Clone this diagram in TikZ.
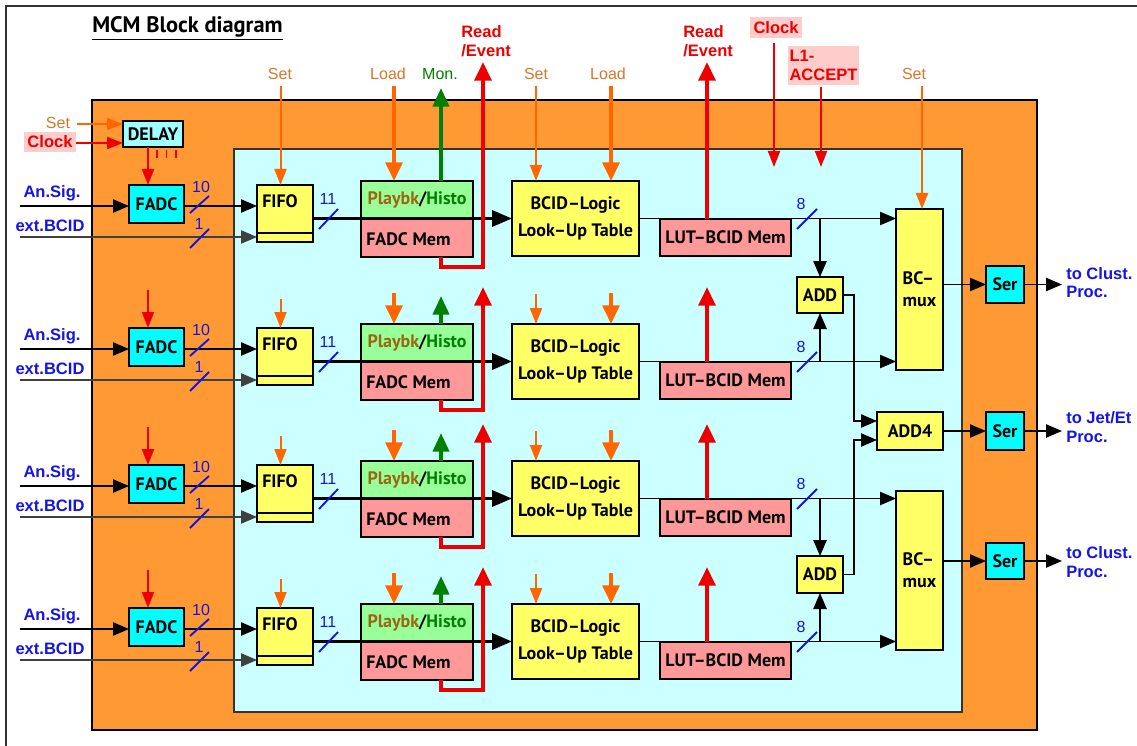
\documentclass[tikz,border=0pt]{standalone}
\usepackage{fontspec}
\setmainfont{Liberation Sans}
\newfontfamily\ptsans{PT Sans}
\usetikzlibrary{arrows.meta}
\definecolor{orbg}{RGB}{255,153,51}
\definecolor{cybg}{RGB}{204,255,255}
\definecolor{yelc}{RGB}{255,255,102}
\definecolor{grnc}{RGB}{153,255,153}
\definecolor{pnkc}{RGB}{255,153,153}
\definecolor{cyc}{RGB}{0,255,255}
\definecolor{dlyc}{RGB}{160,255,255}
\definecolor{lblbg}{RGB}{255,204,204}
\definecolor{orarr}{RGB}{255,102,0}
\definecolor{ortxt}{RGB}{214,120,40}
\definecolor{redc}{RGB}{238,0,0}
\definecolor{grnarr}{RGB}{0,128,0}
\definecolor{bluec}{RGB}{20,20,230}
\definecolor{brownc}{RGB}{153,102,17}
\newcommand\blkf{\ptsans\bfseries\fontsize{13.5}{20}\selectfont}
\newcommand\muxf{\ptsans\bfseries\fontsize{13.5}{16.5}\selectfont}
\newcommand\sigf{\bfseries\fontsize{12.4}{13.8}\selectfont}
\newcommand\setf{\fontsize{12}{14}\selectfont}
\newcommand\bx[7]{\node[#6, minimum width={((#4)-(#2))*0.75pt}, minimum height={((#5)-(#3))*0.75pt}] (#1) at ({((#2)+(#4))/2},{((#3)+(#5))/2}) {#7};}
\tikzset{
  box/.style={draw=black, line width=1.4pt, inner sep=0pt, outer sep=0pt, font=\blkf},
  yelb/.style={box, fill=yelc},
  grnb/.style={box, fill=grnc},
  pnkb/.style={box, fill=pnkc},
  cyb/.style={box, fill=cyc},
  wire/.style={draw=black, line width=1pt, >={Triangle[length=12pt,width=10pt]}},
  fatwire/.style={draw=black, line width=2.6pt, >={Triangle[length=15pt,width=12pt]}},
  setarr/.style={draw=orarr, line width=1.5pt, >={Triangle[length=12pt,width=9pt]}},
  loadarr/.style={draw=orarr, line width=3pt, >={Triangle[length=14pt,width=12.5pt]}},
  monarr/.style={draw=grnarr, line width=3pt, >={Triangle[length=14pt,width=12pt]}},
  rdarr/.style={draw=redc, line width=3.2pt, >={Triangle[length=14pt,width=12.5pt]}},
  clkarr/.style={draw=redc, line width=1.5pt, >={Triangle[length=12pt,width=9pt]}},
  slash/.style={draw=bluec, line width=1.4pt},
  num/.style={text=bluec, font=\setf, inner sep=0pt},
  sig/.style={text=bluec, font=\sigf, inner sep=0pt},
  ctl/.style={text=ortxt, font=\setf, inner sep=0pt},
  rdl/.style={text=redc, font=\sigf, align=left, inner sep=0pt},
}
\begin{document}
\begin{tikzpicture}[x=0.75pt,y=-0.75pt]
\useasboundingbox (0,0) rectangle (1137,745);
\fill[white] (0,0) rectangle (1137,745);
\draw[line width=1pt, black!80] (6,746) -- (6,6) -- (1138,6);
% panels
\draw[line width=1.4pt, fill=orbg] (92,100) rectangle (1037,730);
\draw[line width=1.1pt, draw=black!80, fill=cybg] (234,149) rectangle (962,712);
% title
\node[anchor=base west, font=\ptsans\bfseries\fontsize{16.8}{20}\selectfont, inner sep=0pt] (title) at (92,33) {\underline{MCM Block diagram}};
% column coordinates
\coordinate (yTop) at (0,86);
\coordinate (xFr) at (148,0);
\coordinate (xFset) at (280.5,0);
\coordinate (xLoad) at (394,0);
\coordinate (xMon) at (441,0);
\coordinate (xBset) at (536,0);
\coordinate (xBload) at (611,0);
\coordinate (xLrd) at (707,0);
\coordinate (xMset) at (922,0);
\coordinate (j) at (854,0);
% right-hand blocks
\bx{add1}{797}{277}{843}{313}{yelb}{ADD}
\bx{add2}{797}{556}{843}{593}{yelb}{ADD}
\bx{add4}{877}{412}{943}{450}{yelb}{ADD4}
\bx{mux1}{896}{209}{943}{370}{yelb,align=left,font=\muxf}{BC–\\mux}
\bx{mux2}{896}{491}{943}{650}{yelb,align=left,font=\muxf}{BC–\\mux}
\bx{ser1}{986}{266}{1024}{303}{cyb}{Ser}
\bx{ser2}{986}{412}{1024}{450}{cyb}{Ser}
\bx{ser3}{986}{543}{1024}{579}{cyb}{Ser}
% delay
\bx{delay}{123}{121}{183}{147}{box,fill=dlyc}{DELAY}
\node[ctl] (setd) at (58,123) {Set};
\node[fill=lblbg, text=redc, font=\sigf, minimum width=39pt, minimum height=15pt, inner sep=0pt] (clkd) at (50,142) {Clock};
\coordinate (setIn) at (77,124);
\coordinate (clkIn) at (76,143);
\draw[setarr,->] (setIn) -- (delay.west |- setIn);
\draw[clkarr,->] (clkIn) -- (delay.west |- clkIn);
\foreach \x in {157,166.5,176} \draw[redc, line width=1.3pt] (\x,150) -- (\x,158);
% rows
\foreach \i/\d/\m/\s in {1/0/1/north,2/143/1/south,3/280/2/north,4/423/2/south}{
  \bx{fadc\i}{129}{185+\d}{184}{223+\d}{cyb}{FADC}
  \bx{fifo\i}{257}{185+\d}{313}{242+\d}{yelb}{}
  \draw[line width=1pt] ([yshift=6.75pt]fifo\i.south west) -- ([yshift=6.75pt]fifo\i.south east);
  \node[font=\blkf, inner sep=0pt] (fifot\i) at (280,{201+\d}) {FIFO};
  \bx{pb\i}{361}{181+\d}{473}{219+\d}{grnb}{\textcolor{brownc}{Playbk}/\textcolor{grnarr}{Histo}}
  \bx{fm\i}{361}{219+\d}{473}{257+\d}{pnkb}{}
  \node[font=\blkf, anchor=west, inner sep=0pt] (fmt\i) at (366,{239+\d}) {FADC Mem};
  \bx{bcid\i}{512}{181+\d}{639}{256+\d}{yelb,align=center}{BCID–Logic\\Look–Up Table}
  \bx{lut\i}{660}{219+\d}{791}{256+\d}{pnkb}{LUT–BCID Mem}
  \node[sig] (an\i) at (52,{193+\d}) {An.Sig.};
  \node[sig] (ex\i) at (50,{226+\d}) {ext.BCID};
  \coordinate (as\i) at (20,{206+\d});
  \coordinate (eb\i) at (20,{237+\d});
  \draw[wire,->] (as\i) -- (fadc\i.west |- as\i);
  \draw[wire,->] (fadc\i.east |- as\i) -- (fifo\i.west |- as\i);
  \draw[wire,draw=black!75,->] (eb\i) -- (fifo\i.west |- eb\i);
  \draw[fatwire,->] (fifo\i.east |- bcid\i.west) -- (bcid\i.west);
  \draw[wire,->] (bcid\i.east) -- (mux\m.west |- bcid\i.east);
  \draw[wire,->] (add\m.\s |- bcid\i.east) -- (add\m.\s);
  \draw[slash] (190,{213+\d}) -- (209,{196+\d});
  \draw[slash] (190,{248+\d}) -- (209,{229+\d});
  \draw[slash] (319,{229+\d}) -- (338,{209+\d});
  \draw[slash] (797,{229+\d}) -- (817,{209+\d});
  \node[num] (na\i) at (201,{187+\d}) {10};
  \node[num] (nb\i) at (199,{224+\d}) {1};
  \node[num] (nc\i) at (328,{199+\d}) {11};
  \node[num] (nd\i) at (801,{204+\d}) {8};
}
% top arrows, row 1
\draw[clkarr,->] (xFr |- delay.south) -- (xFr |- fadc1.north);
\draw[setarr,->] (xFset |- yTop) -- (xFset |- fifo1.north);
\draw[loadarr,->] (xLoad |- yTop) -- (xLoad |- pb1.north);
\coordinate (monTip) at (441,88);
\draw[monarr,->] (xMon |- pb1.north) -- (monTip);
\coordinate (rdTip1) at (483,62);
\draw[rdarr,->] (xMon |- fm1.south) -- ++(0,10) -| (rdTip1);
\draw[setarr,->] (xBset |- yTop) -- (xBset |- bcid1.north);
\draw[loadarr,->] (xBload |- yTop) -- (xBload |- bcid1.north);
\coordinate (rdTip2) at (707,62);
\draw[rdarr,->] (xLrd |- lut1.north) -- (rdTip2);
\draw[setarr,->] (xMset |- yTop) -- (xMset |- mux1.north);
% rows 2-4 short arrows
\foreach \i/\d in {2/143,3/280,4/423}{
  \draw[clkarr,<-] (xFr |- fadc\i.north) -- ++(0,-38);
  \draw[setarr,<-] (xFset |- fifo\i.north) -- ++(0,-29);
  \draw[loadarr,<-] (xLoad |- pb\i.north) -- ++(0,-31);
  \draw[monarr,->] (xMon |- pb\i.north) -- ++(0,-28);
  \coordinate (rt\i) at (483,{144+\d});
  \draw[rdarr,->] (xMon |- fm\i.south) -- ++(0,10) -| (rt\i);
  \draw[setarr,<-] (xBset |- bcid\i.north) -- ++(0,-30);
  \draw[loadarr,<-] (xBload |- bcid\i.north) -- ++(0,-31);
  \coordinate (lt\i) at (707,{144+\d});
  \draw[rdarr,->] (xLrd |- lut\i.north) -- (lt\i);
}
% top labels
\node[ctl] (setF) at (280,74) {Set};
\node[ctl] (ldP) at (388,74) {Load};
\node[ctl, text=grnarr] (mon) at (440,74) {Mon.};
\node[ctl] (setB) at (536,74) {Set};
\node[ctl] (ldB) at (608,74) {Load};
\node[ctl] (setM) at (914,74) {Set};
\node[rdl, anchor=west] (rd1) at (461,41) {Read\\/Event};
\node[rdl, anchor=west] (rd2) at (683,41) {Read\\/Event};
\node[fill=lblbg, text=redc, font=\sigf, minimum width=39pt, minimum height=15.75pt, inner sep=0pt] (clk) at (776,27.5) {Clock};
\node[fill=lblbg, rdl, minimum width=53pt, minimum height=29pt] (l1) at (823.5,65.5) {L1-\\ACCEPT};
\coordinate (clkE) at (774,167);
\coordinate (clkS) at (774,43);
\draw[clkarr,->] (clkS) -- (clkE);
\coordinate (l1S) at (821,87);
\coordinate (l1E) at (821,167);
\draw[clkarr,->] (l1S) -- (l1E);
% adders and outputs
\coordinate (a4a) at ([yshift=7.5pt]add4.west);
\coordinate (a4b) at ([yshift=-6.75pt]add4.west);
\draw[wire,->] (add1.east) -| (j |- a4a) -- (a4a);
\draw[wire,->] (add2.east) -| (j |- a4b) -- (a4b);
\draw[wire,->] (mux1.east |- ser1.west) -- (ser1.west);
\draw[wire,->] (add4.east) -- (ser2.west);
\draw[wire,->] (mux2.east |- ser3.west) -- (ser3.west);
\node[sig, align=left, anchor=west, inner xsep=3pt] (oc1) at (1062,282.5) {to Clust.\\Proc.};
\node[sig, align=left, anchor=west, inner xsep=3pt] (oj) at (1062,427) {to Jet/Et\\Proc.};
\node[sig, align=left, anchor=west, inner xsep=3pt] (oc2) at (1062,562) {to Clust.\\Proc.};
\draw[wire,->] (ser1.east) -- (oc1.west |- ser1.east);
\draw[wire,->] (ser2.east) -- (oj.west |- ser2.east);
\draw[wire,->] (ser3.east) -- (oc2.west |- ser3.east);
\end{tikzpicture}
\end{document}
